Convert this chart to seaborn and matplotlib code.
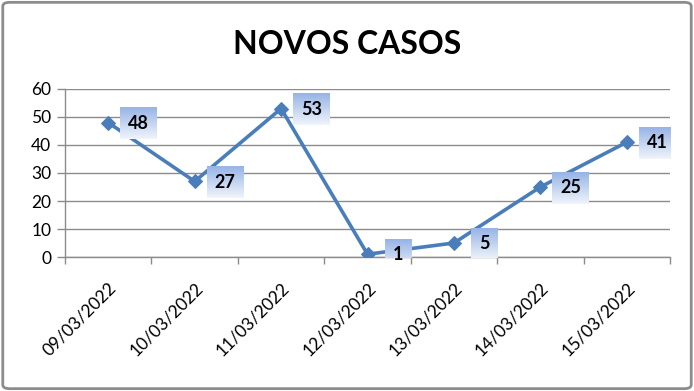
import numpy as np
import pandas as pd
import matplotlib
matplotlib.use("Agg")
import matplotlib.pyplot as plt
import seaborn as sns
from matplotlib.image import BboxImage
from matplotlib.colors import LinearSegmentedColormap
from matplotlib.patches import FancyBboxPatch

# data
datas = ["09/03/2022", "10/03/2022", "11/03/2022", "12/03/2022",
         "13/03/2022", "14/03/2022", "15/03/2022"]
casos = [48, 27, 53, 1, 5, 25, 41]
yticks = [0, 10, 20, 30, 40, 50, 60]

df = pd.DataFrame({"data": datas, "casos": casos})

sns.set_style("white")
plt.rcParams['font.family'] = ['Lato', 'DejaVu Sans']
plt.rcParams['text.color'] = 'black'
plt.rcParams['xtick.color'] = 'black'
plt.rcParams['ytick.color'] = 'black'

fig = plt.figure(figsize=(6.94, 3.91), dpi=100)
ax = fig.add_axes([0.0937, 0.3427, 0.8717, 0.4297])

azul = "#4a7ebb"
sns.lineplot(data=df, x="data", y="casos", sort=False, color=azul,
             linewidth=2.6, marker="D", markersize=7.5,
             markeredgecolor=azul, ax=ax, zorder=3)

ax.set_xlim(-0.5, 6.5)
ax.set_ylim(0, 60)
ax.set_yticks(yticks)
ax.set_yticklabels([str(v) for v in yticks], fontsize=12.5)
ax.grid(axis="y", color="#8c8c8c", linewidth=1)
ax.set_axisbelow(True)
for s in ["top", "right"]:
    ax.spines[s].set_visible(False)
for s in ["left", "bottom"]:
    ax.spines[s].set_color("#8c8c8c")
    ax.spines[s].set_linewidth(1)
ax.tick_params(axis="y", length=6, color="#8c8c8c", labelcolor="black", width=1, pad=4, direction="out", left=True)
ax.set_xticks(range(len(datas)))
ax.set_xticklabels(datas, rotation=45, ha="right", rotation_mode="anchor", fontsize=12.5)
ax.tick_params(axis="x", length=0, pad=16, labelcolor="black")
ax.set_xticks(np.arange(-0.5, len(datas), 1), minor=True)
ax.tick_params(axis="x", which="minor", length=5, color="#8c8c8c", width=1, bottom=True)
ax.set_xlabel("")
ax.set_ylabel("")

fig.text(0.5, 0.885, "NOVOS CASOS", ha="center", va="center",
         fontsize=23, fontweight="bold", color="black")

# data labels with gradient boxes
cmap = LinearSegmentedColormap.from_list("lbl", ["#97b4e6", "#f0f4fb"])
grad = np.linspace(0, 1, 64).reshape(-1, 1)
for i, v in enumerate(casos):
    t = ax.annotate(str(v), (i, v), xytext=(22, -0.5), textcoords="offset points",
                    ha="center", va="center", fontsize=13, fontweight="bold",
                    color="black", zorder=5)
    img = BboxImage(lambda r, t=t: t.get_window_extent(r).padded(8, 7.5),
                    data=grad, cmap=cmap, interpolation="bilinear", zorder=4)
    ax.add_artist(img)

# outer border
fig.patches.append(FancyBboxPatch((0.004, 0.006), 0.992, 0.988,
                                  boxstyle="round,pad=0,rounding_size=0.01",
                                  transform=fig.transFigure, fill=False,
                                  edgecolor="#8c8c8c", linewidth=2))

fig.savefig("out.png", dpi=100)
